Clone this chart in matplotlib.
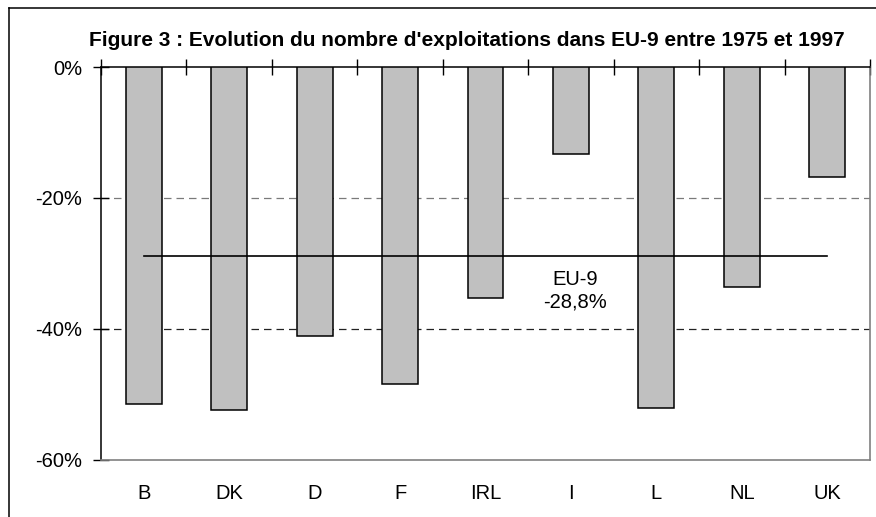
import matplotlib.pyplot as plt
from matplotlib.lines import Line2D

# données
pays = ['B', 'DK', 'D', 'F', 'IRL', 'I', 'L', 'NL', 'UK']
evolution = [-51.5, -52.3, -41.0, -48.4, -35.2, -13.3, -52.0, -33.6, -16.8]
moyenne_eu9 = -28.8
etiquette_eu9 = 'EU-9\n-28,8%'
y_ticks = [0, -20, -40, -60]
y_tick_labels = ['0%', '-20%', '-40%', '-60%']
titre = "Figure 3 : Evolution du nombre d'exploitations dans EU-9 entre 1975 et 1997"

plt.rcParams['font.family'] = ['Liberation Sans', 'DejaVu Sans']

fig = plt.figure(figsize=(8.76, 5.17), dpi=100)
ax = fig.add_axes([0.1153, 0.1103, 0.8779, 0.7601])

x = list(range(len(pays)))
ax.bar(x, evolution, width=0.42, color='#c0c0c0', edgecolor='black', linewidth=1.1, zorder=3)

# ligne moyenne EU-9
ax.plot([x[0], x[-1]], [moyenne_eu9, moyenne_eu9], color='black', linewidth=1.2, zorder=4)
ax.text(5.05, -34.2, etiquette_eu9, ha='center', va='center', fontsize=14.5, linespacing=1.2, zorder=5)

# grille pointillée
for y, c in zip([-20, -40], ['#7a7a7a', '#222222']):
    ax.axhline(y, color=c, linestyle=(0, (6, 4)), linewidth=0.9, zorder=1)

ax.set_xlim(-0.5, len(pays) - 0.5)
ax.set_ylim(-60, 0)

ax.set_yticks(y_ticks)
ax.set_yticklabels(y_tick_labels, fontsize=14.5)
ax.tick_params(axis='y', direction='inout', length=11, width=1, pad=8)

ax.set_xticks(x)
ax.set_xticklabels(pays, fontsize=14.5)
ax.set_xticks([i - 0.5 for i in range(len(pays) + 1)], minor=True)
ax.tick_params(axis='x', which='major', length=0, pad=17)
ax.tick_params(axis='x', which='minor', top=True, bottom=False, direction='inout', length=11, width=1)

ax.spines['top'].set_color('black')
ax.spines['top'].set_linewidth(1.1)
ax.spines['left'].set_color('black')
ax.spines['left'].set_linewidth(1.1)
ax.spines['bottom'].set_color('#808080')
ax.spines['bottom'].set_linewidth(1.2)
ax.spines['right'].set_color('#808080')
ax.spines['right'].set_linewidth(1.2)

fig.text(0.533, 1 - 46 / 517, titre, ha='center', va='baseline', fontsize=15, fontweight='bold')

# cadre extérieur (coupé à droite et en bas)
fig.add_artist(Line2D([9 / 876, 9 / 876], [0, 1 - 8 / 517], transform=fig.transFigure, color='black', linewidth=1.1))
fig.add_artist(Line2D([9 / 876, 1], [1 - 8 / 517, 1 - 8 / 517], transform=fig.transFigure, color='black', linewidth=1.1))

plt.savefig('out.png', dpi=100)
